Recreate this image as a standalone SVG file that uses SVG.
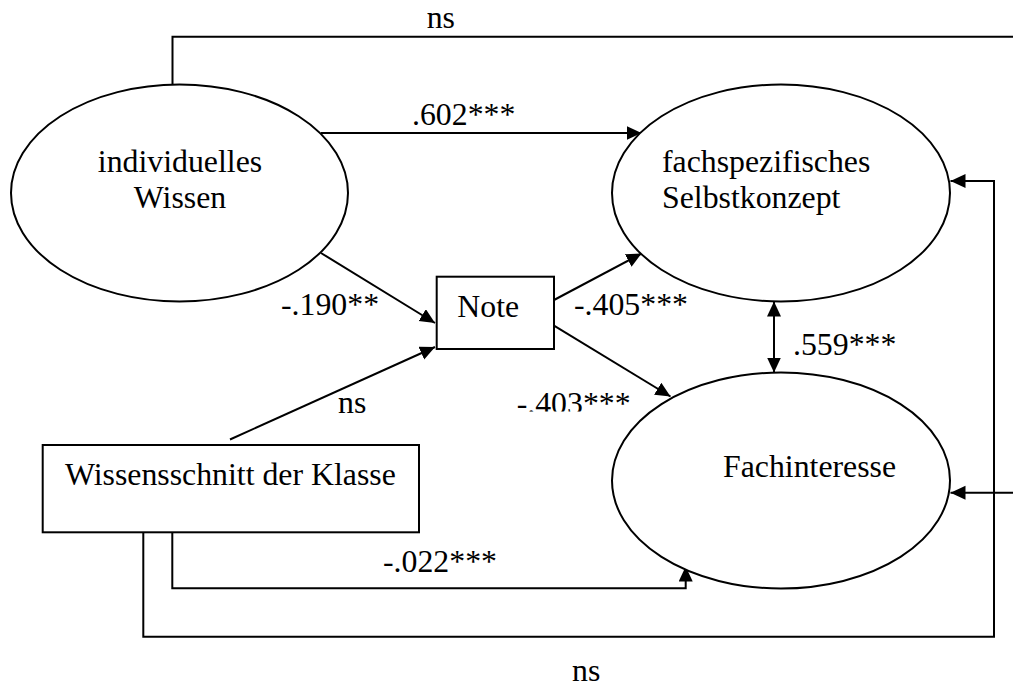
<svg xmlns="http://www.w3.org/2000/svg" width="1013" height="686" viewBox="0 0 1013 686">
<style>
.n{fill:#fff;stroke:#000;stroke-width:2}
.c{fill:none;stroke:#000;stroke-width:2}
text{font-family:"Liberation Serif","Times New Roman",serif;font-size:31.8px;fill:#000}
</style>
<defs>
<marker id="ah" markerUnits="userSpaceOnUse" markerWidth="16" markerHeight="15" refX="15" refY="7" orient="auto-start-reverse">
<path d="M0,0 L15,7 L0,14 z" fill="#000"/>
</marker>
<clipPath id="clip403"><rect x="500" y="380" width="200" height="31.5"/></clipPath>
</defs>
<rect width="1013" height="686" fill="#fff"/>
<g id="connectors">
<path class="c" d="M172.5,84.5 V36.7 H1013"/>
<path class="c" d="M1013,492.7 H950.5" marker-end="url(#ah)"/>
<path class="c" d="M321,133 H641.5" marker-end="url(#ah)"/>
<path class="c" d="M321,253 L435,323" marker-end="url(#ah)"/>
<path class="c" d="M230,439.5 L435,347" marker-end="url(#ah)"/>
<path class="c" d="M554,300 L641.5,253.5" marker-end="url(#ah)"/>
<path class="c" d="M554,325.7 L670.5,396.5" marker-end="url(#ah)"/>
<path class="c" d="M774,301.5 V372.5" marker-start="url(#ah)" marker-end="url(#ah)"/>
<path class="c" d="M172.3,532.5 V588.3 H685.7 V566.5" marker-end="url(#ah)"/>
<path class="c" d="M143.3,532.5 V636.7 H994 V181 H950.5" marker-end="url(#ah)"/>
<text x="426.7" y="28">ns</text>
<text x="412" y="124.5">.602***</text>
<text x="281" y="315">-.190**</text>
<text x="574" y="315">-.405***</text>
<text x="793" y="355">.559***</text>
<text x="516.7" y="414" clip-path="url(#clip403)">-.403***</text>
<text x="338" y="413">ns</text>
<text x="383" y="572">-.022***</text>
<text x="572" y="681">ns</text>
</g>
<g id="individuelles-wissen">
<ellipse class="n" cx="179.5" cy="193" rx="168.5" ry="108.5"/>
<text x="180" y="172" text-anchor="middle">individuelles</text>
<text x="180" y="208" text-anchor="middle">Wissen</text>
</g>
<g id="selbstkonzept">
<ellipse class="n" cx="781" cy="193" rx="169" ry="108.5"/>
<text x="662" y="172">fachspezifisches</text>
<text x="662" y="208">Selbstkonzept</text>
</g>
<g id="note">
<rect class="n" x="436.7" y="276.7" width="117.3" height="72.3"/>
<text x="457.3" y="317">Note</text>
</g>
<g id="fachinteresse">
<ellipse class="n" cx="781" cy="480.5" rx="169" ry="108"/>
<text x="723" y="477">Fachinteresse</text>
</g>
<g id="wissensschnitt">
<rect class="n" x="42.7" y="445" width="376.3" height="87.3"/>
<text x="65" y="485">Wissensschnitt der Klasse</text>
</g>
</svg>
